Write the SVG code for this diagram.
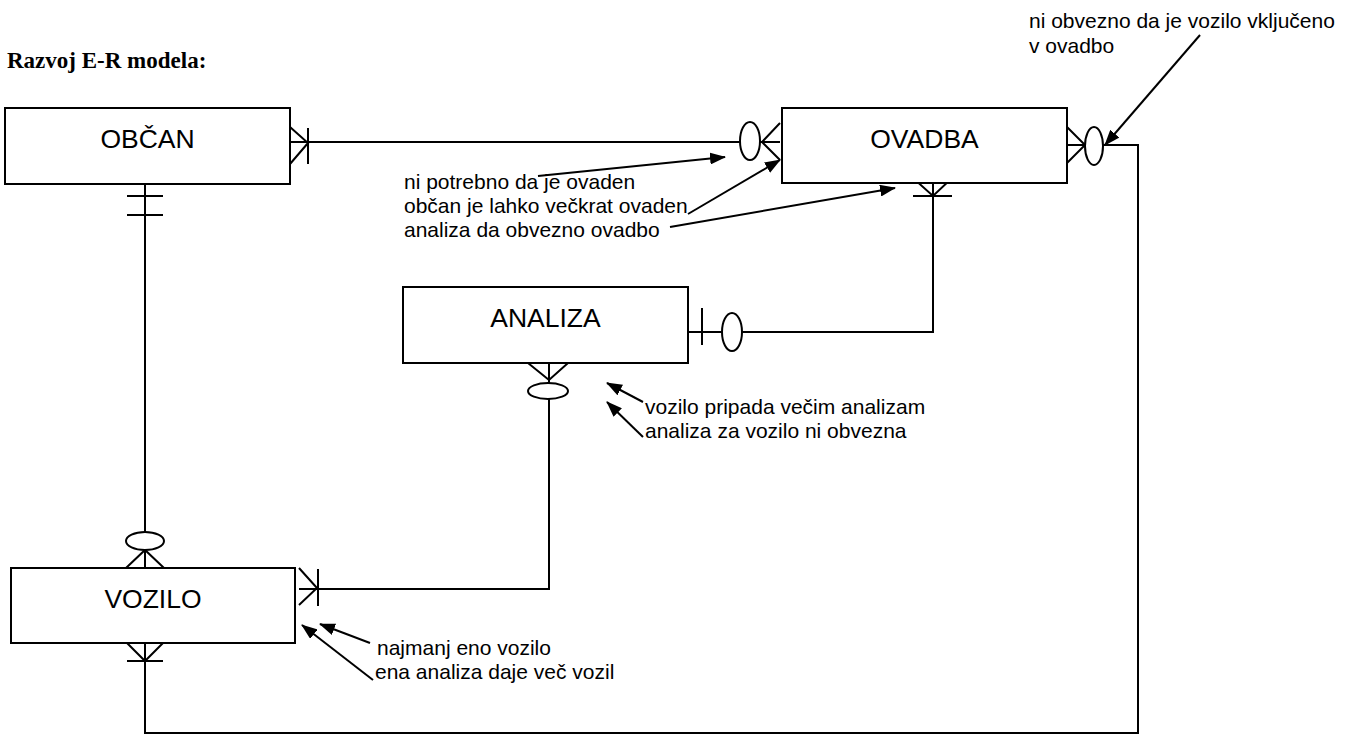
<svg xmlns="http://www.w3.org/2000/svg" width="1359" height="736" viewBox="0 0 1359 736">
<style>
.box{fill:#fff;stroke:#000;stroke-width:2}
.lbl{font-family:"Liberation Sans",Arial,sans-serif;font-size:26.5px;text-anchor:middle;fill:#000}
.note{font-family:"Liberation Sans",Arial,sans-serif;font-size:21px;fill:#000}
.title{font-family:"Liberation Serif","Times New Roman",serif;font-size:23px;font-weight:bold;fill:#000}
.ln{fill:none;stroke:#000;stroke-width:2}
.ell{fill:#fff;stroke:#000;stroke-width:2}
.arr{fill:none;stroke:#000;stroke-width:2;marker-end:url(#ah)}
</style>
<defs>
<marker id="ah" markerUnits="userSpaceOnUse" markerWidth="16" markerHeight="12" refX="15" refY="6" orient="auto">
<path d="M0,0 L16,6 L0,12 Z" fill="#000"/>
</marker>
</defs>
<rect width="1359" height="736" fill="#fff"/>
<text class="title" x="7" y="68">Razvoj E-R modela:</text>

<g id="connectors">
<!-- OBCAN - OVADBA -->
<path class="ln" d="M280,142 H780"/>
<path class="ln" d="M290,127 L308,143 L290,164 M308,128 V164"/>
<path class="ln" d="M780,123 L762,142 L780,160"/>
<ellipse class="ell" cx="750" cy="141" rx="10" ry="19"/>
<!-- OBCAN - VOZILO -->
<path class="ln" d="M145,178 V575"/>
<path class="ln" d="M127,196 H163 M127,215 H163"/>
<path class="ln" d="M126,568 L145,550 L164,568"/>
<ellipse class="ell" cx="145" cy="541" rx="19" ry="9"/>
<!-- OVADBA - ANALIZA -->
<path class="ln" d="M933,177 V332 H688"/>
<path class="ln" d="M913,178 L933,196 L952,178 M913,196 H952"/>
<path class="ln" d="M702,308 V345"/>
<ellipse class="ell" cx="732" cy="332" rx="10" ry="19"/>
<!-- ANALIZA - VOZILO -->
<path class="ln" d="M549,363 V589 H299"/>
<path class="ln" d="M528,363 L549,380 L568,363"/>
<ellipse class="ell" cx="548" cy="391" rx="20" ry="8"/>
<path class="ln" d="M299,568 L317,588 L299,605 M318,569 V606"/>
<!-- OVADBA - VOZILO -->
<path class="ln" d="M1067,145 H1138 V733 H145 V643"/>
<path class="ln" d="M1067,127 L1085,145 L1067,163"/>
<ellipse class="ell" cx="1094" cy="146" rx="9" ry="19"/>
<path class="ln" d="M127,643 L145,661 L163,643 M127,661 H163"/>
<!-- annotation arrows -->
<path class="arr" d="M538,176 L725,157"/>
<path class="arr" d="M688,214 L780,160"/>
<path class="arr" d="M670,227 L895,188"/>
<path class="arr" d="M1200,35 L1105,145"/>
<path class="arr" d="M643,402 L607,383"/>
<path class="arr" d="M643,437 L607,402"/>
<path class="arr" d="M370,643 L320,624"/>
<path class="arr" d="M373,680 L302,625"/>
</g>

<g id="obcan">
<rect class="box" x="5" y="108" width="285" height="76"/>
<text class="lbl" x="147.5" y="148">OBČAN</text>
</g>
<g id="ovadba">
<rect class="box" x="782" y="108" width="285" height="75"/>
<text class="lbl" x="924.5" y="148">OVADBA</text>
</g>
<g id="analiza">
<rect class="box" x="403" y="287" width="285" height="76"/>
<text class="lbl" x="545.5" y="327">ANALIZA</text>
</g>
<g id="vozilo">
<rect class="box" x="11" y="568" width="284" height="75"/>
<text class="lbl" x="153" y="608">VOZILO</text>
</g>

<g id="notes">
<text class="note" x="1029" y="28">ni obvezno da je vozilo vključeno</text>
<text class="note" x="1029" y="53">v ovadbo</text>
<text class="note" x="404" y="189">ni potrebno da je ovaden</text>
<text class="note" x="404" y="213">občan je lahko večkrat ovaden</text>
<text class="note" x="404" y="237">analiza da obvezno ovadbo</text>
<text class="note" x="645" y="414">vozilo pripada večim analizam</text>
<text class="note" x="645" y="438">analiza za vozilo ni obvezna</text>
<text class="note" x="377" y="655">najmanj eno vozilo</text>
<text class="note" x="375" y="679">ena analiza daje več vozil</text>
</g>
</svg>
